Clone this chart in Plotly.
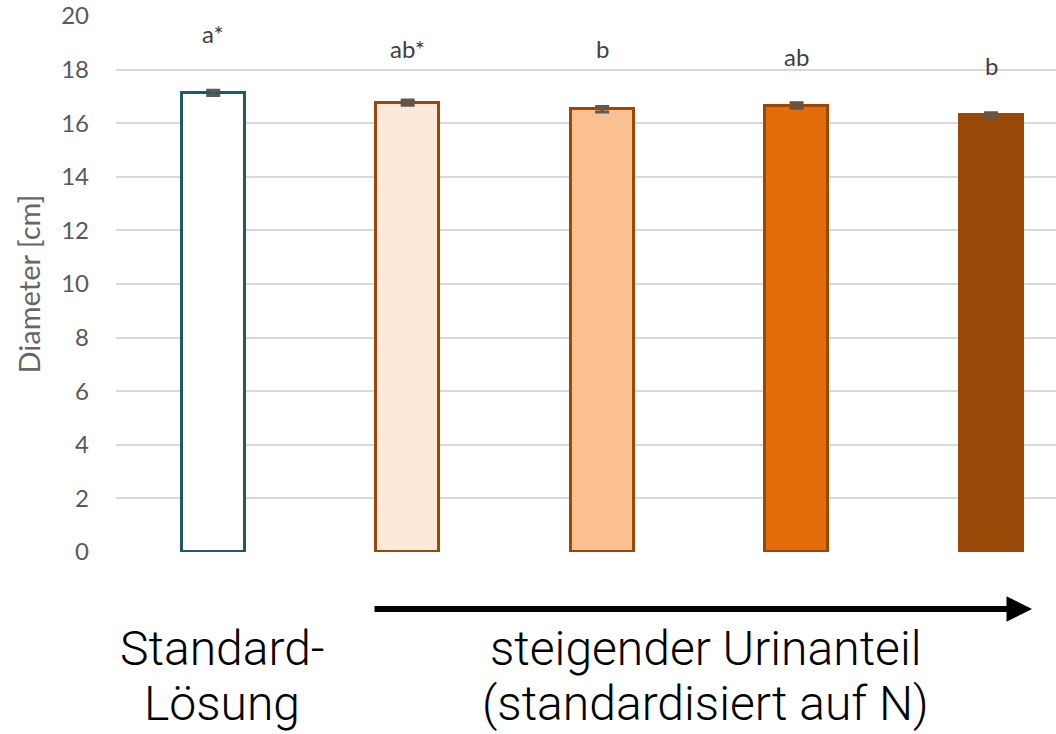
import plotly.graph_objects as go

# Data
categories = ["Standard-Lösung", "Urin 1", "Urin 2", "Urin 3", "Urin 4"]
diameter = [17.13, 16.77, 16.52, 16.66, 16.29]
errors = [0.1, 0.1, 0.1, 0.1, 0.1]
letters = ["a*", "ab*", "b", "ab", "b"]
letter_y = [19.35, 18.8, 18.8, 18.5, 18.15]
fill_colors = ["#ffffff", "#fde9d9", "#fac090", "#e46c0a", "#984807"]
line_colors = ["#215968", "#984807", "#984807", "#984807", "#984807"]
y_ticks = [0, 2, 4, 6, 8, 10, 12, 14, 16, 18, 20]

W, H = 1056, 734
L, R, T, B = 116, 0, 16, 182
pw = W - L - R
ph = H - T - B

def px_x(px):
    return (px - L) / pw

def px_y(py):
    return (H - B - py) / ph

fig = go.Figure()
fig.add_trace(go.Bar(
    x=list(range(len(categories))),
    y=diameter,
    width=0.324,
    marker=dict(color=fill_colors, line=dict(color=line_colors, width=3)),
    error_y=dict(type="data", array=errors, visible=True, color="#595959",
                 thickness=3, width=7),
    hoverinfo="y",
    showlegend=False,
))

annotations = []
for i, (lt, ly) in enumerate(zip(letters, letter_y)):
    annotations.append(dict(x=i, y=ly, xref="x", yref="y", text=lt, showarrow=False,
                            font=dict(family="Lato", size=24, color="#404040")))

big = dict(family="Roboto", size=48, color="#000000", weight=300)
annotations += [
    dict(x=px_x(222), y=px_y(648), xref="paper", yref="paper", text="Standard-",
         showarrow=False, font=big, xanchor="center", yanchor="middle"),
    dict(x=px_x(222), y=px_y(703), xref="paper", yref="paper", text="Lösung",
         showarrow=False, font=big, xanchor="center", yanchor="middle"),
    dict(x=px_x(705), y=px_y(648), xref="paper", yref="paper", text="steigender Urinanteil",
         showarrow=False, font=big, xanchor="center", yanchor="middle"),
    dict(x=px_x(705), y=px_y(703), xref="paper", yref="paper", text="(standardisiert auf N)",
         showarrow=False, font=big, xanchor="center", yanchor="middle"),
    dict(x=px_x(1032), y=px_y(609), xref="paper", yref="paper", text="",
         showarrow=True, ax=-659, ay=0, axref="pixel", ayref="pixel",
         arrowhead=2, arrowsize=0.85, arrowwidth=6, arrowcolor="#000000"),
]

fig.update_layout(
    width=W, height=H,
    margin=dict(l=L, r=R, t=T, b=B, pad=0),
    paper_bgcolor="#ffffff", plot_bgcolor="#ffffff",
    xaxis=dict(range=[-0.5, (1056 - 213) / 194.5], showticklabels=False,
               showgrid=False, zeroline=False, showline=False, ticks=""),
    yaxis=dict(range=[0, 20], tickvals=y_ticks, showgrid=True, gridcolor="#d9d9d9",
               gridwidth=2, zeroline=False, showline=False, ticks="",
               ticklabelstandoff=26,
               tickfont=dict(family="Lato", size=24, color="#595959"),
               title=dict(text="Diameter [cm]", standoff=12,
                          font=dict(family="Lato", size=29, color="#666666"))),
    annotations=annotations,
    bargap=0,
)

fig.write_html("out.html", config={"displayModeBar": False},
               post_script="document.body.style.margin='0px';")
